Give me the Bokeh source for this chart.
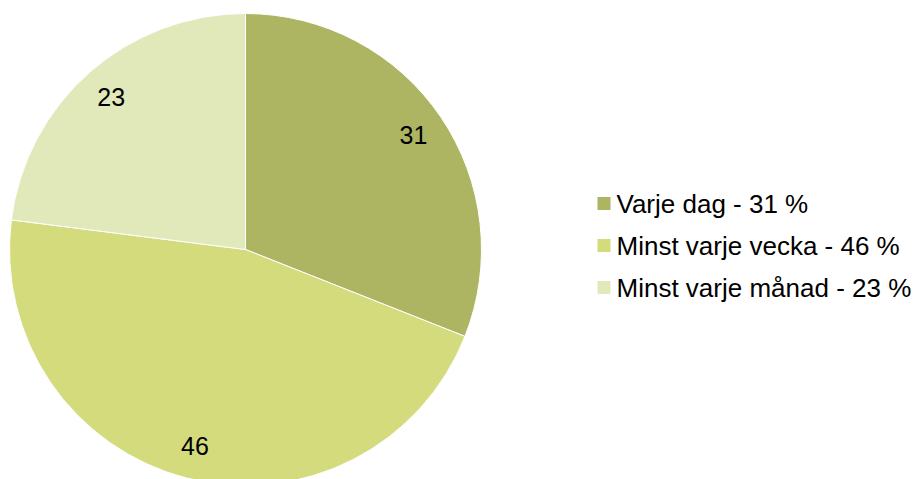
import math
from bokeh.plotting import figure
from bokeh.models import Range1d, ColumnDataSource
from bokeh.core.properties import value
from bokeh.embed import file_html
from bokeh.resources import INLINE

# ---- data ----
categories = ["Varje dag", "Minst varje vecka", "Minst varje månad"]
values = [31, 46, 23]
colors = ["#ADB563", "#D4DB7C", "#E1E8BA"]

# ---- layout (screen-like coordinates: x = px from left, y = px from bottom of window) ----
W, H = 920, 479
cx, cy = 245, 479 - 249
R = 236
label_r = 203
FONT = "Liberation Sans"

p = figure(width=W, height=H, output_backend="svg", toolbar_location=None,
           x_range=Range1d(0, W), y_range=Range1d(479 - H, 479),
           min_border=0)
p.axis.visible = False
p.grid.visible = False
p.outline_line_color = None
p.background_fill_color = "white"
p.border_fill_color = "white"

total = sum(values)
starts, ends, mids = [], [], []
a = math.pi / 2
for v in values:
    sweep = v / total * 2 * math.pi
    starts.append(a)
    ends.append(a - sweep)
    mids.append(a - sweep / 2)
    a -= sweep

src = ColumnDataSource(dict(x=[cx] * len(values), y=[cy] * len(values),
                            start=starts, end=ends, color=colors))
p.wedge(x="x", y="y", radius=R, start_angle="start", end_angle="end",
        direction="clock", fill_color="color", line_color="white",
        line_width=1, source=src)

# data labels
lx = [cx + label_r * math.cos(m) for m in mids]
ly = [cy + label_r * math.sin(m) for m in mids]
p.text(x=lx, y=ly, text=[str(v) for v in values], text_align="center",
       text_baseline="middle", text_font=value(FONT), text_font_size="25px",
       text_color="black")

# legend (manual)
leg_x = 603.5
leg_text_x = 616
leg_y0 = 479 - 203
leg_dy = 42
ys = [leg_y0 - i * leg_dy for i in range(len(categories))]
p.rect(x=[leg_x] * len(categories), y=ys, width=13, height=13,
       fill_color=colors, line_color=None)
p.text(x=[leg_text_x] * len(categories), y=ys,
       text=[f"{c} - {v} %" for c, v in zip(categories, values)],
       text_align="left", text_baseline="middle", text_font=value(FONT),
       text_font_size="26px", text_color="black")

open("out.html", "w").write(file_html(p, INLINE))
